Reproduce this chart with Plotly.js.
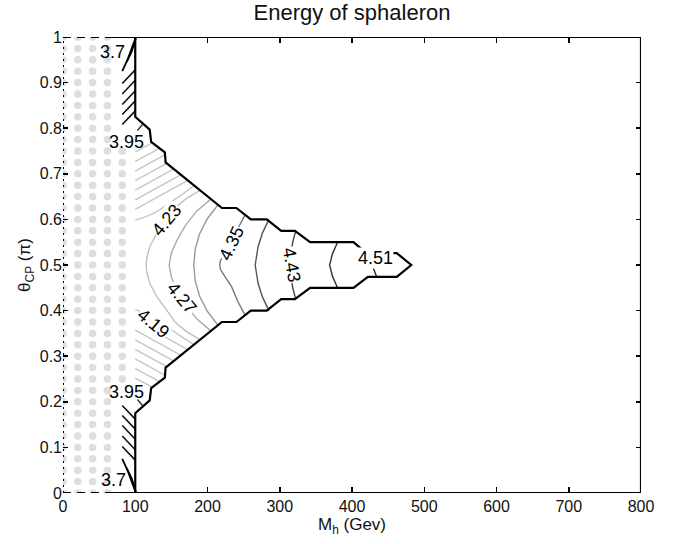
<!DOCTYPE html>
<html>
<head>
<meta charset="utf-8">
<script src="https://cdn.plot.ly/plotly-3.0.1.min.js"></script>
<style>html,body{margin:0;padding:0;background:#fff;}</style>
</head>
<body>
<div id="chart" style="width:683px;height:544px;"></div>
<script>
// ---------- axes ----------
const xTicks = [0, 100, 200, 300, 400, 500, 600, 700, 800];
const yTicks = [0, 0.1, 0.2, 0.3, 0.4, 0.5, 0.6, 0.7, 0.8, 0.9, 1];
const yTickText = ['0', '0.1', '0.2', '0.3', '0.4', '0.5', '0.6', '0.7', '0.8', '0.9', '1'];

// ---------- excluded grid points (gray dots) ----------
const dotColsX = [0, 20.5, 41, 61.5];
const dotRowsTheta = [0, 0.025, 0.05, 0.075, 0.1, 0.125, 0.15, 0.175, 0.2, 0.225, 0.25, 0.275, 0.3, 0.325, 0.35, 0.375, 0.4, 0.425, 0.45, 0.475, 0.5, 0.525, 0.55, 0.575, 0.6, 0.625, 0.65, 0.675, 0.7, 0.725, 0.75, 0.775, 0.8, 0.825, 0.85, 0.875, 0.9, 0.925, 0.95, 0.975, 1];
const dotCol5X = 82;
const dotCol5Theta = [0.25, 0.275, 0.3, 0.325, 0.35, 0.375, 0.4, 0.425, 0.45, 0.475, 0.5, 0.525, 0.55, 0.575, 0.6, 0.625, 0.65, 0.675, 0.7, 0.725, 0.75];

// ---------- outer boundary of the solution region ----------
const boundaryX = [100, 100, 120, 122, 141, 142, 220, 240, 260, 282, 302, 321, 342, 402, 420, 462, 482, 462, 422, 402, 342, 321, 302, 282, 260, 240, 220, 142, 141, 122, 120, 100, 100];
const boundaryT = [1, 0.825, 0.797, 0.77, 0.747, 0.725, 0.625, 0.625, 0.6, 0.6, 0.575, 0.575, 0.55, 0.55, 0.526, 0.526, 0.5, 0.474, 0.474, 0.45, 0.45, 0.425, 0.425, 0.4, 0.4, 0.375, 0.375, 0.275, 0.253, 0.23, 0.203, 0.175, 0];

// ---------- contour lines ----------
// low levels near the corners (black, narrow strips near M_h = 80..100)
const stripTopX = [82, 100, null, 82, 100, null, 82, 100, null, 82, 100, null, 82, 100];
const stripTopT = [0.808, 0.838, null, 0.83, 0.86, null, 0.852, 0.882, null, 0.875, 0.905, null, 0.898, 0.928];
const stripBotX = [82, 100, null, 82, 100, null, 82, 100, null, 82, 100, null, 82, 100];
const stripBotT = [0.192, 0.162, null, 0.17, 0.14, null, 0.148, 0.118, null, 0.125, 0.095, null, 0.102, 0.072];
const c37TopX = [82, 90, 96, 99.5, 101, null, 88, 95, 99.5, 101];
const c37TopT = [0.925, 0.953, 0.979, 0.994, 1, null, 0.945, 0.968, 0.99, 1];
const c37BotX = [82, 90, 96, 99.5, 101, null, 88, 95, 99.5, 101];
const c37BotT = [0.075, 0.047, 0.021, 0.006, 0, null, 0.055, 0.032, 0.01, 0];
const c395X = [103, 110, null, 103, 110];
const c395T = [0.795, 0.808, null, 0.205, 0.192];
// intermediate levels (light gray strokes)
const grayTopX = [100, 123.4, null, 100, 133.7, null, 100, 141.5, null, 100, 143.6, null, 100, 153.5, null, 100, 163.4, null, 100, 173.3];
const grayTopT = [0.748, 0.768, null, 0.727, 0.756, null, 0.706, 0.742, null, 0.685, 0.723, null, 0.664, 0.711, null, 0.643, 0.698, null, 0.622, 0.686];
const grayBotX = [100, 123.4, null, 100, 133.7, null, 100, 141.5, null, 100, 143.6, null, 100, 153.5, null, 100, 163.4, null, 100, 173.3];
const grayBotT = [0.252, 0.232, null, 0.273, 0.244, null, 0.294, 0.258, null, 0.315, 0.277, null, 0.336, 0.289, null, 0.357, 0.302, null, 0.378, 0.314];
// 4.19 (two branches)
const c419X = [100, 115, 130, 150, 165, 182, null, 100, 115, 124.6, 130, 150, 165, 182];
const c419T = [0.598, 0.606, 0.617, 0.638, 0.655, 0.675, null, 0.402, 0.394, 0.383, 0.378, 0.358, 0.342, 0.325];
// arcs 4.23 .. 4.51
const c423X = [190, 170, 155, 143.5, 130, 120, 116, 115, 116, 120, 130, 143.5, 155, 170, 190];
const c423T = [0.664, 0.645, 0.625, 0.599, 0.57, 0.54, 0.515, 0.5, 0.485, 0.46, 0.43, 0.401, 0.375, 0.355, 0.336];
const c427X = [205, 185, 170, 158, 150, 147, 150, 158, 164.3, 170, 185, 205];
const c427T = [0.645, 0.618, 0.588, 0.555, 0.527, 0.5, 0.473, 0.445, 0.427, 0.412, 0.382, 0.355];
const c431X = [215, 200, 189, 183, 181, 183, 189, 200, 215];
const c431T = [0.633, 0.602, 0.568, 0.535, 0.5, 0.465, 0.432, 0.398, 0.367];
const c435X = [252, 242, 233.5, 224, 218, 217, 218, 224, 233.5, 242, 252];
const c435T = [0.61, 0.58, 0.548, 0.525, 0.51, 0.5, 0.49, 0.475, 0.452, 0.42, 0.39];
const c439X = [285, 276, 270, 266, 270, 276, 285];
const c439T = [0.6, 0.57, 0.54, 0.5, 0.46, 0.43, 0.4];
const c443X = [322, 318, 315, 314, 315, 318, 322];
const c443T = [0.575, 0.55, 0.52, 0.5, 0.48, 0.45, 0.425];
const c447X = [380, 373, 369, 373, 380];
const c447T = [0.55, 0.525, 0.5, 0.475, 0.45];
const c451X = [430, 428, 434];
const c451T = [0.526, 0.5, 0.474];

// ---------- contour labels ----------
const labelText = ['3.7', '3.95', '4.23', '4.27', '4.19', '4.35', '4.43', '4.51', '3.95', '3.7'];
const labelX = [69, 88, 143.5, 164.3, 124.6, 233.5, 316.5, 432, 88, 69.6];
const labelT = [0.968, 0.77, 0.599, 0.427, 0.373, 0.548, 0.5, 0.515, 0.222, 0.029];
const labelAngle = [0, 0, -50, 50, 40, -65, 80, 0, 0, 0];

// ---------- build ----------
const FONT = 'Liberation Sans, Arial, Helvetica, sans-serif';
const traces = [];

const dx = [], dy = [];
dotColsX.forEach(x => dotRowsTheta.forEach(t => { dx.push(x); dy.push(t); }));
dotCol5Theta.forEach(t => { dx.push(dotCol5X); dy.push(t); });
traces.push({x: dx, y: dy, type: 'scatter', mode: 'markers', hoverinfo: 'skip',
  marker: {size: 7.5, color: '#dedede'}, showlegend: false});

function addLine(x, y, color, width) {
  traces.push({x: x, y: y, type: 'scatter', mode: 'lines', connectgaps: false, hoverinfo: 'skip',
    line: {color: color, width: width}, showlegend: false});
}
addLine(grayTopX, grayTopT, '#c6c6c6', 1.4);
addLine(grayBotX, grayBotT, '#c6c6c6', 1.4);
addLine(c419X, c419T, '#c6c6c6', 1.4);
addLine(c423X, c423T, '#c0c0c0', 1.4);
addLine(c427X, c427T, '#ababab', 1.4);
addLine(c431X, c431T, '#999999', 1.4);
addLine(c435X, c435T, '#777777', 1.4);
addLine(c439X, c439T, '#555555', 1.4);
addLine(c443X, c443T, '#444444', 1.4);
addLine(c447X, c447T, '#333333', 1.4);
addLine(c451X, c451T, '#222222', 1.4);
addLine(stripTopX, stripTopT, '#111111', 1.6);
addLine(stripBotX, stripBotT, '#111111', 1.6);
addLine(c37TopX, c37TopT, '#000000', 1.8);
addLine(c37BotX, c37BotT, '#000000', 1.8);
addLine(c395X, c395T, '#333333', 1.4);
addLine(boundaryX, boundaryT, '#000000', 2.2);

const annotations = labelText.map((s, i) => ({
  x: labelX[i], y: labelT[i], xref: 'x', yref: 'y', text: s, showarrow: false,
  textangle: labelAngle[i], font: {family: FONT, size: 18, color: '#000'},
  bgcolor: (i >= 2 && i <= 7) ? '#ffffff' : 'rgba(0,0,0,0)', borderpad: 0
}));

const shapes = [
  // solid frame
  {type: 'line', xref: 'x', yref: 'y', x0: 69, y0: 1, x1: 800, y1: 1, line: {color: '#000', width: 2.2}},
  {type: 'line', xref: 'x', yref: 'y', x0: 69, y0: 0, x1: 800, y1: 0, line: {color: '#000', width: 2.2}},
  {type: 'line', xref: 'x', yref: 'y', x0: 800, y0: 0, x1: 800, y1: 1, line: {color: '#000', width: 2.2}},
  // dashed / dotted part of the frame over the excluded region
  {type: 'line', xref: 'x', yref: 'y', x0: 0, y0: 1, x1: 69, y1: 1, line: {color: '#000', width: 2, dash: '8px,6px'}},
  {type: 'line', xref: 'x', yref: 'y', x0: 0, y0: 0, x1: 69, y1: 0, line: {color: '#000', width: 2, dash: '8px,6px'}},
  {type: 'line', xref: 'x', yref: 'y', x0: 0, y0: 0, x1: 0, y1: 1, line: {color: '#000', width: 2, dash: '2px,4px'}}
];

const layout = {
  width: 683, height: 544,
  margin: {l: 63, r: 42, t: 37, b: 51},
  paper_bgcolor: '#fff', plot_bgcolor: '#fff',
  font: {family: FONT, size: 16, color: '#000'},
  title: {text: 'Energy of sphaleron', font: {family: FONT, size: 22, color: '#111'},
    x: 0.5, xref: 'paper', y: 0.977, yref: 'container', yanchor: 'middle'},
  xaxis: {range: [0, 800], tickvals: xTicks, ticktext: xTicks.map(String), ticks: 'inside', ticklen: 6,
    tickwidth: 1.5, tickcolor: '#000', mirror: 'ticks', showline: false, showgrid: false, zeroline: false,
    ticklabelstandoff: 2,
    tickfont: {family: FONT, size: 16, color: '#111'},
    title: {text: 'M<sub>h</sub> (Gev)', font: {family: FONT, size: 17, color: '#111'}, standoff: 1}},
  yaxis: {range: [0, 1], tickvals: yTicks, ticktext: yTickText, ticks: 'inside', ticklen: 5,
    tickwidth: 1.5, tickcolor: '#000', mirror: 'ticks', showline: false, showgrid: false, zeroline: false,
    tickfont: {family: FONT, size: 16, color: '#111'},
    title: {text: 'θ<sub>CP</sub> (π)', font: {family: FONT, size: 17, color: '#111'}, standoff: 4}},
  shapes: shapes,
  annotations: annotations,
  showlegend: false
};

Plotly.newPlot('chart', traces, layout, {staticPlot: true, displayModeBar: false});
</script>
</body>
</html>
